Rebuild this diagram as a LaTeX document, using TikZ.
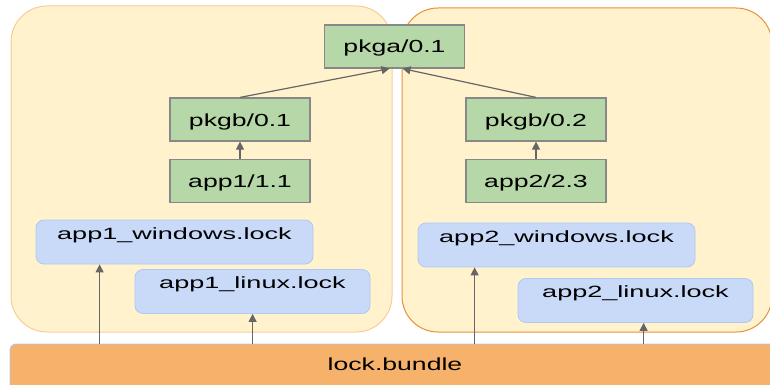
\documentclass[tikz,border=0pt]{standalone}
\usepackage{fontspec}
\setmainfont{Liberation Sans}[FakeStretch=1.52]
\newfontfamily\lockfont{Liberation Sans}[FakeStretch=1.66]
\usetikzlibrary{arrows.meta, positioning, calc}

\definecolor{groupfill}{HTML}{FFF2CC}
\definecolor{groupline}{HTML}{F9CB9C}
\definecolor{grouplinedark}{HTML}{E69138}
\definecolor{pkgfill}{HTML}{B6D7A8}
\definecolor{pkgline}{HTML}{888888}
\definecolor{lockfill}{HTML}{C9DAF8}
\definecolor{lockline}{HTML}{AFC8F4}
\definecolor{bundlefill}{HTML}{F6B26B}
\definecolor{arrowgray}{HTML}{666666}

\begin{document}
\begin{tikzpicture}[x=1pt, y=-1pt,
  font=\fontsize{17.5}{20}\selectfont,
  pkg/.style={draw=pkgline, line width=1.2pt, fill=pkgfill, minimum width=140pt,
    text height=28pt, text depth=15pt, inner sep=0pt},
  lockfile/.style={draw=lockline, line width=0.8pt, fill=lockfill, rounded corners=8pt,
    text height=19pt, text depth=25pt, inner sep=0pt,
    font=\lockfont\fontsize{16.3}{20}\selectfont},
  dep/.style={draw=arrowgray, line width=1.2pt, -{Triangle[length=8pt,width=8pt]}}]
\useasboundingbox (0,0) rectangle (770,385);

% Groups
\filldraw[fill=groupfill, draw=groupline, line width=1pt, rounded corners=36pt] (11,6) rectangle (392,332);
\filldraw[fill=groupfill, draw=grouplinedark, line width=1pt, rounded corners=36pt] (402,8) rectangle (772,332);

% Packages
\node[pkg] (pkga) at (394.5,46.5) {pkga/0.1};
\node[pkg] (pkgb1) at (240,119.5) {pkgb/0.1};
\node[pkg] (app1) at (240,181) {app1/1.1};
\node[pkg] (pkgb2) at (536,119.5) {pkgb/0.2};
\node[pkg] (app2) at (536,181) {app2/2.3};

% Lock files
\node[lockfile, minimum width=277pt] (app1w) at (174.5,242) {app1\_windows.lock};
\node[lockfile, minimum width=235pt] (app1l) at (252.5,291.5) {app1\_linux.lock};
\node[lockfile, minimum width=277pt] (app2w) at (556.5,245) {app2\_windows.lock};
\node[lockfile, minimum width=235pt] (app2l) at (635.5,300.5) {app2\_linux.lock};

% Bundle
\node[draw=lockline, line width=0.8pt, fill=bundlefill, rounded corners=6pt,
  minimum width=770pt, text height=26pt, text depth=20pt, inner sep=0pt]
  (bundle) at (395,367) {lock.bundle};

% Dependencies
\draw[dep] (pkgb1.north) -- ([xshift=-5pt]pkga.south);
\draw[dep] (pkgb2.north) -- ([xshift=8pt]pkga.south);
\draw[dep] (app1.north) -- (pkgb1.south);
\draw[dep] (app2.north) -- (pkgb2.south);

% Bundle to lock files
\coordinate (w1) at ([xshift=64pt]app1w.south west);
\coordinate (l1) at ([xshift=118pt]app1l.south west);
\coordinate (w2) at ([xshift=57pt]app2w.south west);
\coordinate (l2) at ([xshift=126pt]app2l.south west);
\draw[dep] (w1 |- bundle.north) -- (w1);
\draw[dep] (l1 |- bundle.north) -- (l1);
\draw[dep] (w2 |- bundle.north) -- (w2);
\draw[dep] (l2 |- bundle.north) -- (l2);
\end{tikzpicture}
\end{document}
